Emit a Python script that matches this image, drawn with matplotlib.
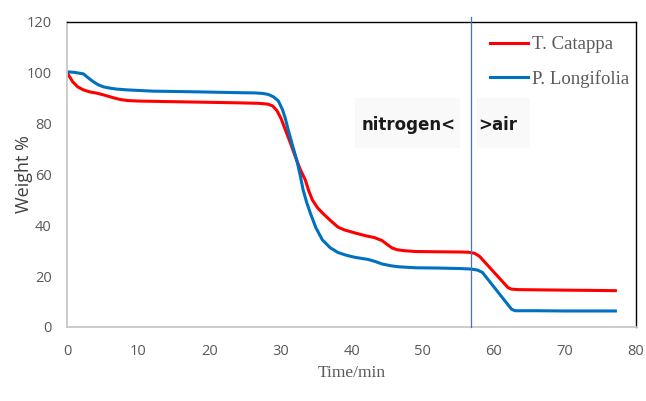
import matplotlib
matplotlib.use("Agg")
import matplotlib.pyplot as plt
from matplotlib.lines import Line2D
from matplotlib.patches import Rectangle

# T. Catappa
t_red = [0, 0.4, 0.8, 1.5, 2.3, 3.2, 4.2, 5.3, 6.5, 7.5, 8.5, 10, 12, 16, 20, 24, 27, 28.2, 28.9,
         29.5, 30.1, 30.7, 31.4, 32.1, 32.8, 33.5, 34.0, 34.5, 35.2, 35.9, 37, 38.1, 39, 40.5, 42,
         43.2, 44.3, 45.0, 45.7, 46.4, 47.5, 49, 52, 55.3, 56.5, 57.3, 58, 62.0, 62.5, 63.5, 70, 77.1]
w_red = [100.2, 98.3, 96.5, 94.5, 93.3, 92.5, 92.0, 91.2, 90.2, 89.5, 89.1, 88.9, 88.8, 88.6, 88.4,
         88.2, 88.0, 87.7, 87.0, 85.2, 82.0, 77.6, 72.5, 67.0, 62.0, 57.9, 53.5, 50.0, 47.0, 44.9,
         42.0, 39.3, 38.2, 37.0, 35.9, 35.2, 34.0, 32.5, 31.1, 30.4, 30.0, 29.7, 29.6, 29.5, 29.4,
         29.0, 27.8, 15.5, 14.9, 14.7, 14.5, 14.3]

# P. Longifolia
t_blue = [0, 1, 2.3, 3, 3.7, 4.4, 5.1, 6, 7, 8.4, 12, 18.7, 24, 26.4, 27.5, 28.3, 29, 29.7, 30.3,
          30.7, 31.1, 31.7, 32.3, 32.8, 33.2, 33.7, 34.2, 35, 35.9, 37, 38.1, 39.3, 40.5, 42.3,
          43.3, 44.3, 45.5, 46.6, 49, 52, 55.3, 56.8, 57.7, 58.4, 62.5, 63, 66, 70, 77.1]
w_blue = [100.4, 100.2, 99.6, 98.0, 96.5, 95.3, 94.5, 94.0, 93.6, 93.3, 92.8, 92.5, 92.2, 92.1,
          91.9, 91.5, 90.6, 89.0, 85.5, 82.0, 77.6, 71.5, 65.7, 59.5, 53.9, 49.0, 44.9, 39.0,
          34.3, 31.2, 29.3, 28.2, 27.4, 26.6, 25.8, 24.8, 24.1, 23.7, 23.3, 23.2, 23.0, 22.8,
          22.4, 21.5, 7.0, 6.4, 6.4, 6.3, 6.3]

x_ticks = [0, 10, 20, 30, 40, 50, 60, 70, 80]
y_ticks = [0, 20, 40, 60, 80, 100, 120]
switch_time = 56.8

W, H = 646, 401
fig = plt.figure(figsize=(W / 100, H / 100), dpi=100)
ax = fig.add_axes([67 / W, 1 - 327 / H, 569 / W, 305 / H])

l1, = ax.plot(t_red, w_red, color='#ff0000', lw=2.2, label='T. Catappa')
l2, = ax.plot(t_blue, w_blue, color='#0070c0', lw=2.2, label='P. Longifolia')

ax.set_xlim(0, 80)
ax.set_ylim(0, 120)
ax.set_xticks(x_ticks)
ax.set_yticks(y_ticks)
ax.tick_params(length=0, labelsize=10.5, labelcolor='#595959')
ax.tick_params(axis='y', pad=11)
ax.tick_params(axis='x', pad=12)
for lab in ax.get_xticklabels() + ax.get_yticklabels():
    lab.set_family('Open Sans')

for s in ['left', 'bottom']:
    ax.spines[s].set_color('#c8c8c8')
    ax.spines[s].set_linewidth(1.3)
for s in ['top', 'right']:
    ax.spines[s].set_color('#000000')
    ax.spines[s].set_linewidth(1.0)

# vertical switch line, slightly above axes
ax.add_line(Line2D([switch_time, switch_time], [0, 122], color='#4472c4', lw=0.9,
                   clip_on=False, zorder=3))

ax.set_xlabel('Time/min', family='Liberation Serif', fontsize=12.5, color='#595959')
ax.xaxis.set_label_coords(0.5, -(365 - 327) / 305)
ax.set_ylabel('Weight %', family='Open Sans', fontsize=13, color='#404040')
ax.yaxis.set_label_coords(-(67 - 33) / 569, 0.5)

# faint boxes behind the annotation
ax.add_patch(Rectangle((40.5, 70.5), 14.8, 19.7, facecolor='#f9f9f9', edgecolor='none', zorder=0.5))
ax.add_patch(Rectangle((57.6, 70.5), 7.5, 19.7, facecolor='#f9f9f9', edgecolor='none', zorder=0.5))
ax.text(54.7, 79.5, 'nitrogen<', family='DejaVu Sans', fontweight='bold', fontsize=12,
        ha='right', va='center', color='#1a1a1a')
ax.text(57.8, 79.5, '>air', family='DejaVu Sans', fontweight='bold', fontsize=12,
        ha='left', va='center', color='#1a1a1a')

leg = fig.legend(handles=[l1, l2], loc='upper left', bbox_to_anchor=(490 / W, 1 - 36 / H),
                 frameon=False, prop={'family': 'Liberation Serif', 'size': 13.5},
                 labelcolor='#595959', handlelength=2.0, handletextpad=0.25,
                 labelspacing=0.9, borderpad=0, borderaxespad=0)

fig.savefig('out.png', dpi=100, facecolor='white')
